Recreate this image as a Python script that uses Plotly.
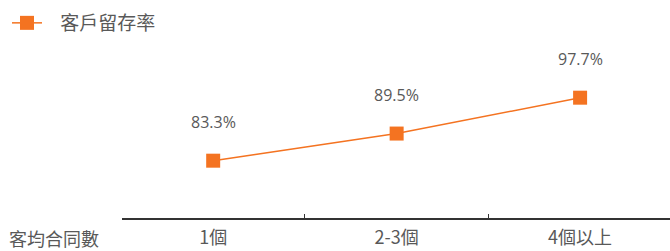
import plotly.graph_objects as go

categories = ["1個", "2-3個", "4個以上"]
retention = [83.3, 89.5, 97.7]
value_labels = ["83.3%", "89.5%", "97.7%"]
series_name = "\u2002\u2009客戶留存率"
axis_title = "客均合同數"

ORANGE = "#F47321"
GRAY = "#595959"
CJK = "Noto Sans CJK TC, Noto Sans, sans-serif"
NUM = "Open Sans, sans-serif"

W, H = 670, 251
L, R, T, B = 122, 0, 40, 33
plot_w = W - L - R
plot_h = H - T - B

fig = go.Figure()
fig.add_trace(go.Scatter(
    x=categories, y=retention, mode="lines+markers", name=series_name,
    line=dict(color=ORANGE, width=1.5),
    marker=dict(symbol="square", size=14, color=ORANGE),
))

for c, v, t in zip(categories, retention, value_labels):
    fig.add_annotation(x=c, y=v, text=t, showarrow=False, yshift=39,
                       font=dict(family=NUM, size=16, color=GRAY))

fig.add_annotation(xref="paper", yref="paper", x=(8 - L) / plot_w,
                   y=(H - B - 237.5) / plot_h, xanchor="left", yanchor="middle",
                   text=axis_title, showarrow=False, borderpad=0,
                   font=dict(family=CJK, size=18, color=GRAY))

fig.update_layout(
    width=W, height=H,
    margin=dict(l=L, r=R, t=T, b=B, autoexpand=False),
    paper_bgcolor="white", plot_bgcolor="white",
    showlegend=True,
    legend=dict(x=(7 - L) / plot_w, y=1 + (T - 4) / plot_h,
                xanchor="left", yanchor="top", orientation="h",
                font=dict(family=CJK, size=19, color=GRAY),
                bgcolor="rgba(0,0,0,0)"),
    xaxis=dict(type="category", range=[-0.497, 2.49], showgrid=False,
               showline=True, linecolor="#333333", linewidth=1.5,
               ticks="inside", tickson="boundaries", ticklen=4,
               tickcolor="#333333", tickwidth=1, ticklabelstandoff=3,
               tickfont=dict(family=CJK, size=18, color=GRAY),
               zeroline=False),
    yaxis=dict(range=[70.2, 70.2 + plot_h / 4.375], visible=False,
               showgrid=False, zeroline=False),
)

fig.write_html("out.html", config={"displayModeBar": False},
               post_script="document.body.style.margin='0';")
